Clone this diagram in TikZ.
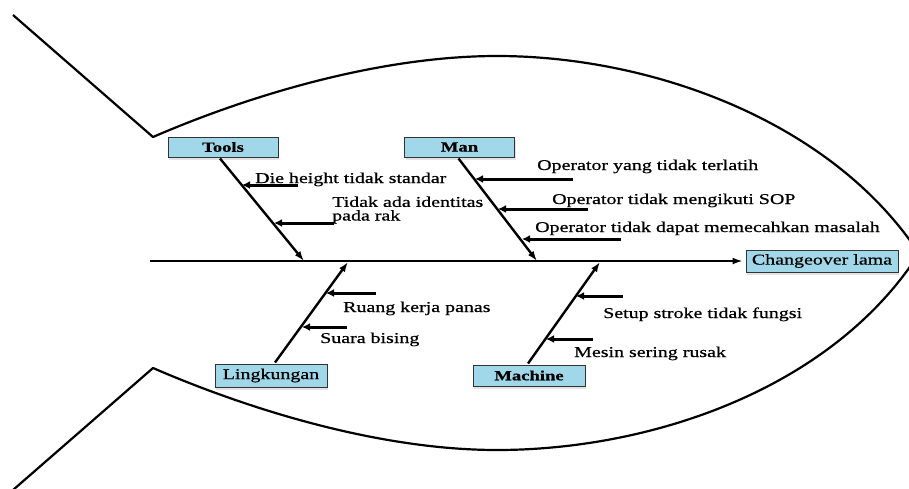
\documentclass[tikz,border=0pt]{standalone}
\usepackage{fontspec}
\setmainfont{Liberation Serif}[FakeStretch=1.33, FakeBold=0.7]
\usetikzlibrary{arrows.meta,calc,shadows}
\definecolor{boxblue}{RGB}{160,216,234}
\begin{document}
\begin{tikzpicture}[x=1pt,y=-1pt,
  catbox/.style={draw=black!80, line width=1pt, fill=boxblue, inner sep=0pt,
    minimum width=110pt, minimum height=20pt,
    drop shadow={shadow xshift=1pt, shadow yshift=-3pt, fill=black!22},
    font=\fontsize{14}{14}\selectfont\bfseries},
  plainbox/.style={catbox, font=\fontsize{15}{15}\selectfont},
  txt/.style={inner sep=0pt, anchor=base west, font=\fontsize{15}{13.6}\selectfont, align=left},
  outline/.style={line width=2.2pt, line join=round},
  spine/.style={line width=1.7pt, -{Latex[length=10pt,width=7pt]}},
  bone/.style={line width=2.4pt, -{Latex[length=10pt,width=7pt]}},
  sub/.style={line width=3pt, -{Latex[length=8pt,width=8pt]}}]
\useasboundingbox (0,0) rectangle (909,488);
\clip (0,0) rectangle (909,488);

% fish outline
\draw[outline] (13,15) -- (153,137)
  .. controls (250,95) and (380,56) .. (497,56)
  .. controls (650,56) and (830,120) .. (918,252);
\draw[outline] (918,255)
  .. controls (830,390) and (650,450) .. (497,450)
  .. controls (380,450) and (250,410) .. (153,368)
  -- (13,490);

% boxes
\node[catbox] (tools) at (223,147) {Tools};
\node[catbox] (man) at (459.5,147) {Man};
\node[plainbox, minimum width=112pt, minimum height=23pt] (ling) at (271,375.5) {Lingkungan};
\node[catbox, minimum width=112pt, minimum height=21pt] (mach) at (529,375.5) {Machine};
\node[plainbox, minimum width=152pt, minimum height=22pt] (effect) at (822,261) {Changeover lama};

% spine
\coordinate (tail) at (150,261);
\draw[spine, shorten >=3pt] (tail) -- (effect.west);

% bone end points on the spine
\coordinate (tb) at (304,261);
\coordinate (mb) at (537,261);
\coordinate (lb) at (348,262);
\coordinate (kb) at (600,262);

\draw[bone] ($(tools.south)+(-3,1)$) -- (tb);
\draw[bone] ($(man.south)+(-1,1)$) -- (mb);
\draw[bone] ($(ling.north)+(4,-1)$) -- (lb);
\draw[bone] ($(mach.north)+(-1,-1)$) -- (kb);

% Tools causes
\coordinate (t1s) at (298,185); \coordinate (t1e) at (242,185);
\coordinate (t2s) at (334,223); \coordinate (t2e) at (274,223);
\draw[sub] (t1s) -- (t1e);
\draw[sub] (t2s) -- (t2e);
\node[txt] (t1) at (255,183) {Die height tidak standar};
\node[txt] (t2) at (332,220.5) {Tidak ada identitas\\pada rak};

% Man causes
\coordinate (m1s) at (573,179); \coordinate (m1e) at (475,179);
\coordinate (m2s) at (588,209); \coordinate (m2e) at (498,209);
\coordinate (m3s) at (621,239); \coordinate (m3e) at (522,239);
\draw[sub] (m1s) -- (m1e);
\draw[sub] (m2s) -- (m2e);
\draw[sub] (m3s) -- (m3e);
\node[txt] (m1) at (537,170) {Operator yang tidak terlatih};
\node[txt] (m2) at (552,204) {Operator tidak mengikuti SOP};
\node[txt] (m3) at (535,232) {Operator tidak dapat memecahkan masalah};

% Lingkungan causes
\coordinate (l1s) at (376,293); \coordinate (l1e) at (326,293);
\coordinate (l2s) at (347,327); \coordinate (l2e) at (302,327);
\draw[sub] (l1s) -- (l1e);
\draw[sub] (l2s) -- (l2e);
\node[txt] (l1) at (343,312) {Ruang kerja panas};
\node[txt] (l2) at (320,343) {Suara bising};

% Machine causes
\coordinate (k1s) at (623,296); \coordinate (k1e) at (576,296);
\coordinate (k2s) at (593,339); \coordinate (k2e) at (546,339);
\draw[sub] (k1s) -- (k1e);
\draw[sub] (k2s) -- (k2e);
\node[txt] (k1) at (603,318) {Setup stroke tidak fungsi};
\node[txt] (k2) at (574,357) {Mesin sering rusak};
\end{tikzpicture}
\end{document}
